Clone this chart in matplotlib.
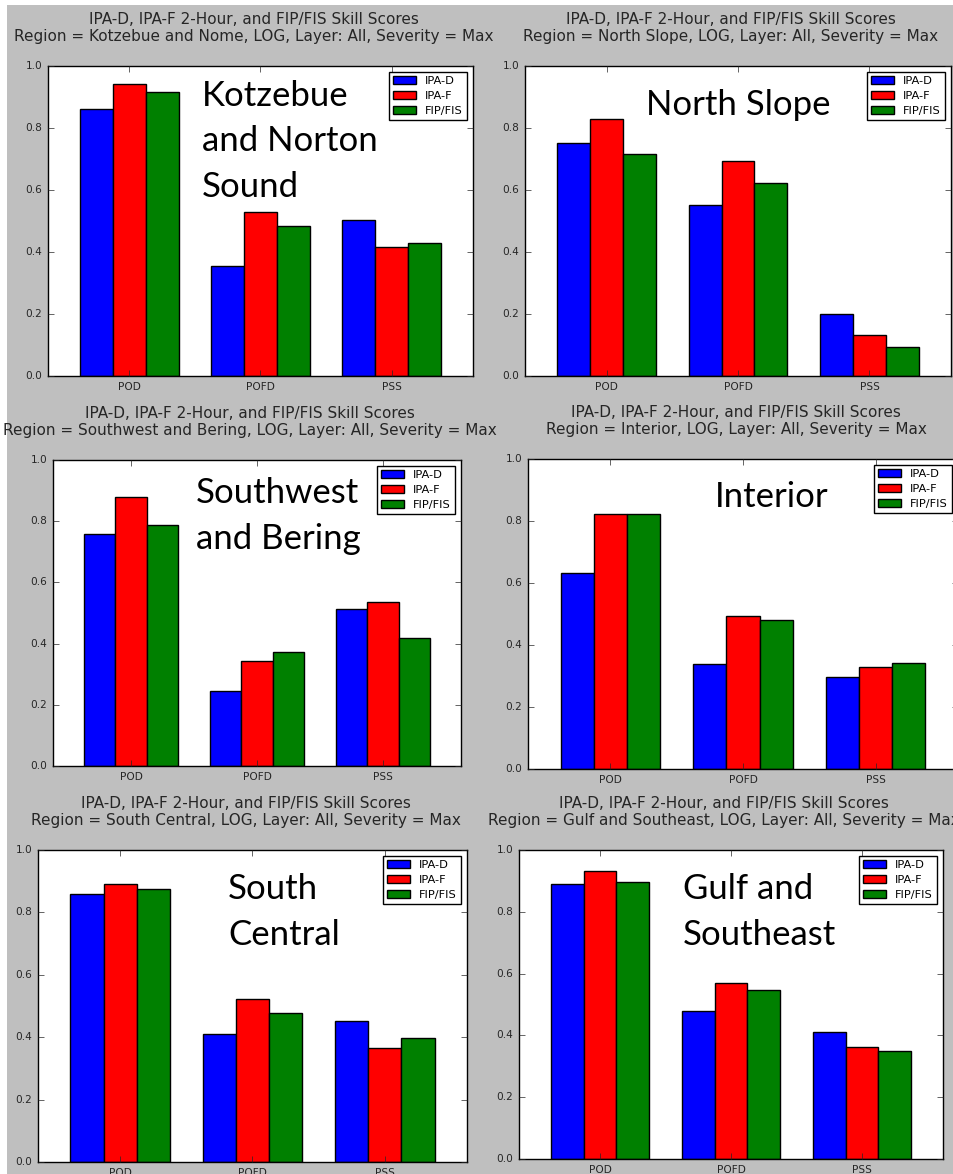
import matplotlib.pyplot as plt
import numpy as np
from matplotlib.patches import Rectangle

plt.style.use('classic')

W, H = 954, 1174

metrics = ['POD', 'POFD', 'PSS']
products = ['IPA-D', 'IPA-F', 'FIP/FIS']
colors = ['b', 'r', 'g']

regions = [
    'Kotzebue and Nome', 'North Slope', 'Southwest and Bering',
    'Interior', 'South Central', 'Gulf and Southeast',
]
region_labels = [
    'Kotzebue\nand Norton\nSound', 'North Slope', 'Southwest\nand Bering',
    'Interior', 'South\nCentral', 'Gulf and\nSoutheast',
]

# skill scores per region, in the order POD, POFD, PSS
ipa_d = [
    [0.860, 0.356, 0.504],
    [0.751, 0.551, 0.201],
    [0.758, 0.245, 0.513],
    [0.633, 0.339, 0.296],
    [0.859, 0.409, 0.452],
    [0.889, 0.479, 0.411],
]
ipa_f = [
    [0.942, 0.528, 0.416],
    [0.829, 0.695, 0.131],
    [0.878, 0.342, 0.536],
    [0.823, 0.494, 0.330],
    [0.891, 0.522, 0.366],
    [0.932, 0.568, 0.364],
]
fip_fis = [
    [0.915, 0.485, 0.430],
    [0.716, 0.623, 0.094],
    [0.789, 0.371, 0.417],
    [0.823, 0.481, 0.342],
    [0.875, 0.477, 0.396],
    [0.896, 0.547, 0.351],
]

# panel boxes in pixels: left, top, right, bottom
boxes = [
    (48, 66, 473, 376), (525, 66, 951, 376),
    (53, 460, 461, 766), (528, 459, 958, 769),
    (38, 850, 467, 1162), (519, 850, 943, 1159),
]
# big region name: left edge and baseline of last line, in pixels
label_pos = [(202, 197), (646, 115), (196, 549), (715, 507), (228, 945), (683, 945)]

fig = plt.figure(figsize=(W / 100, H / 100), dpi=100, facecolor='white')
fig.add_artist(Rectangle((7 / W, 0), 1, 1 - 5 / H, transform=fig.transFigure,
                         facecolor='0.75', edgecolor='none', zorder=-10))

x = np.arange(len(metrics))
width = 0.25

for i, region in enumerate(regions):
    l, t, r, b = boxes[i]
    ax = fig.add_axes([l / W, 1 - b / H, (r - l) / W, (b - t) / H])
    scores = [ipa_d[i], ipa_f[i], fip_fis[i]]
    for k, (name, vals, c) in enumerate(zip(products, scores, colors)):
        ax.bar(x + (k - 1) * width, vals, width, color=c, edgecolor='k',
               linewidth=1.0, align='center', label=name)
    ax.set_xlim(-0.62, 2.62)
    ax.set_ylim(0, 1)
    ax.set_xticks(x)
    ax.set_xticklabels(metrics)
    ax.set_yticks(np.arange(0, 1.01, 0.2))
    ax.tick_params(labelsize=7.6, colors='0.15', pad=4)
    ax.set_title('IPA-D, IPA-F 2-Hour, and FIP/FIS Skill Scores\n'
                 'Region = %s, LOG, Layer: All, Severity = Max' % region,
                 fontsize=11, color='0.15', x=0.5 - 7 / (r - l), pad=18)
    ax.legend(loc='upper right', fontsize=8.2, labelspacing=0.42,
              borderaxespad=0.5)

    lx, ly = label_pos[i]
    fig.text(lx / W, 1 - ly / H, region_labels[i], family='Lato',
             fontsize=25, va='baseline', ha='left', linespacing=1.52)

fig.savefig('out.png', dpi=100, facecolor=fig.get_facecolor())
